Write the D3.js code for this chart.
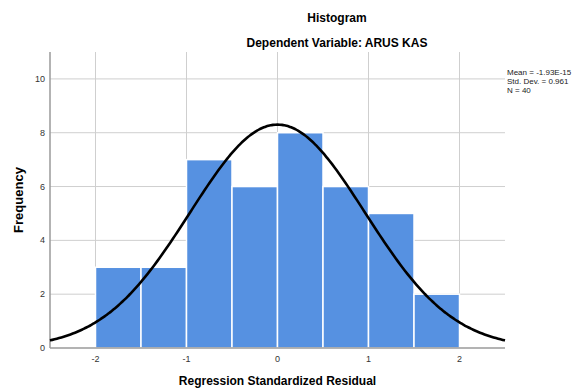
<!DOCTYPE html>
<html>
<head>
<meta charset="utf-8">
<script src="https://cdnjs.cloudflare.com/ajax/libs/d3/7.8.2/d3.min.js"></script>
<style>
  body { margin: 0; background: #fff; }
  svg { font-family: "Liberation Sans", Arial, sans-serif; }
  .grid line { stroke: #cfcfcf; stroke-width: 1; }
  .axis-line { stroke: #9a9a9a; stroke-width: 1.5; }
  .tick-label { font-size: 9px; fill: #333; }
</style>
</head>
<body>
<svg id="chart" width="578" height="389"></svg>
<script>
// histogram bins (left edges) and frequencies
const binStarts = [-2, -1.5, -1, -0.5, 0, 0.5, 1, 1.5];
const binWidth = 0.5;
const counts = [3, 3, 7, 6, 8, 6, 5, 2];

const xTicks = [-2, -1, 0, 1, 2];
const yTicks = [0, 2, 4, 6, 8, 10];

// stats printed on the chart, used for the normal curve
const mean = -1.93e-15;
const stdDev = 0.961;
const nCases = 40;
const statLines = ['Mean = -1.93E-15', 'Std. Dev. = 0.961', 'N = 40'];

const svg = d3.select('#chart');

const x = d3.scaleLinear().domain([-2.5, 2.5]).range([50, 505]);
const y = d3.scaleLinear().domain([0, 11]).range([348, 52]);

// gridlines
const grid = svg.append('g').attr('class', 'grid');
grid.selectAll('.v').data(xTicks).enter().append('line')
    .attr('x1', d => x(d)).attr('x2', d => x(d))
    .attr('y1', y(11)).attr('y2', y(0));
grid.selectAll('.h').data(yTicks.slice(1)).enter().append('line')
    .attr('x1', x(-2.5)).attr('x2', x(2.5))
    .attr('y1', d => y(d)).attr('y2', d => y(d));

// bars
svg.append('g').selectAll('rect')
    .data(binStarts.map((b, i) => ({ x0: b, x1: b + binWidth, n: counts[i] })))
    .enter().append('rect')
    .attr('x', d => x(d.x0))
    .attr('width', d => x(d.x1) - x(d.x0))
    .attr('y', d => y(d.n))
    .attr('height', d => y(0) - y(d.n))
    .attr('fill', '#5691e1')
    .attr('stroke', '#fff')
    .attr('stroke-width', 1.5);

// axes lines
svg.append('line').attr('class', 'axis-line')
    .attr('x1', x(-2.5)).attr('x2', x(-2.5)).attr('y1', y(11)).attr('y2', y(0));
svg.append('line').attr('class', 'axis-line')
    .attr('x1', x(-2.5)).attr('x2', x(2.5)).attr('y1', y(0)).attr('y2', y(0));

// normal curve from the stated mean / sd / N
const pdf = v => Math.exp(-0.5 * Math.pow((v - mean) / stdDev, 2)) / (stdDev * Math.sqrt(2 * Math.PI));
const curvePts = d3.range(-2.5, 2.5001, 0.025).map(v => [v, nCases * binWidth * pdf(v)]);
svg.append('path')
    .datum(curvePts)
    .attr('fill', 'none')
    .attr('stroke', '#000')
    .attr('stroke-width', 2.6)
    .attr('d', d3.line().x(d => x(d[0])).y(d => y(d[1])).curve(d3.curveBasis));

// tick labels
svg.append('g').selectAll('text').data(xTicks).enter().append('text')
    .attr('class', 'tick-label')
    .attr('x', d => x(d)).attr('y', 362)
    .attr('text-anchor', 'middle')
    .text(d => d);
svg.append('g').selectAll('text').data(yTicks).enter().append('text')
    .attr('class', 'tick-label')
    .attr('x', 45).attr('y', d => y(d) + 3)
    .attr('text-anchor', 'end')
    .text(d => d);

// titles
svg.append('text')
    .attr('x', 337).attr('y', 22)
    .attr('text-anchor', 'middle')
    .style('font-size', '12px').style('font-weight', 'bold')
    .text('Histogram');
svg.append('text')
    .attr('x', 337).attr('y', 47)
    .attr('text-anchor', 'middle')
    .style('font-size', '12px').style('font-weight', 'bold')
    .text('Dependent Variable: ARUS KAS');

svg.append('text')
    .attr('x', x(0)).attr('y', 385)
    .attr('text-anchor', 'middle')
    .style('font-size', '12px').style('font-weight', 'bold')
    .text('Regression Standardized Residual');
svg.append('text')
    .attr('transform', 'translate(23,200) rotate(-90)')
    .attr('text-anchor', 'middle')
    .style('font-size', '13px').style('font-weight', 'bold')
    .text('Frequency');

// stats box
svg.append('g').selectAll('text').data(statLines).enter().append('text')
    .attr('x', 507).attr('y', (d, i) => 75 + i * 9)
    .style('font-size', '8px').attr('fill', '#222')
    .text(d => d);
</script>
</body>
</html>
